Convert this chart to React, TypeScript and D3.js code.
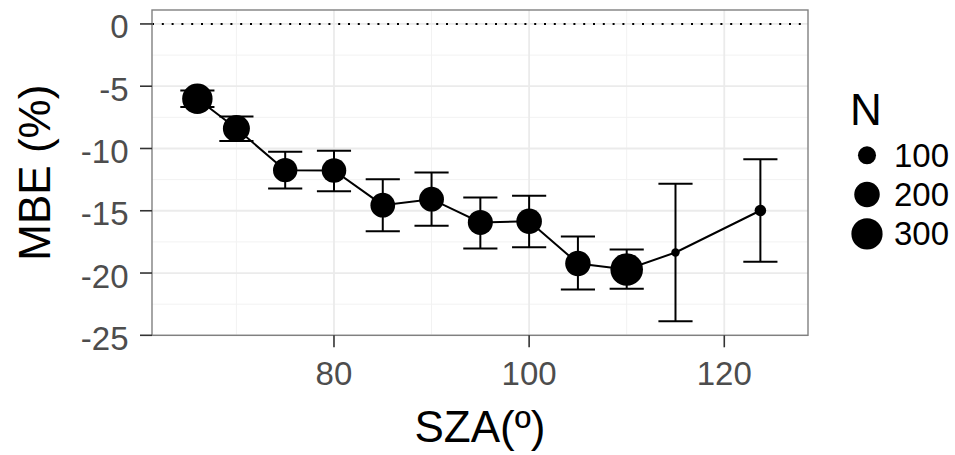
import React from "react";
import * as d3 from "d3";

// SZA bins (degrees), mean bias error (%), error-bar bounds and sample counts
const sza = [66, 70, 75, 80, 85, 90, 95, 100, 105, 110, 115, 123.7];
const mbe = [-6.0, -8.4, -11.74, -11.77, -14.55, -14.07, -15.94, -15.84, -19.23, -19.71, -18.35, -14.98];
const upper = [-5.35, -7.43, -10.27, -10.19, -12.46, -11.93, -13.93, -13.8, -17.06, -18.11, -12.84, -10.86];
const lower = [-6.66, -9.39, -13.21, -13.43, -16.64, -16.21, -18.03, -17.92, -21.32, -21.27, -23.88, -19.1];
const counts = [285, 225, 183, 186, 188, 190, 193, 202, 199, 327, 22, 41];

const xTicks = [80, 100, 120];
const xMinor = [70, 90, 110];
const yTicks = [0, -5, -10, -15, -20, -25];
const yMinor = [-2.5, -7.5, -12.5, -17.5, -22.5];
const legendBreaks = [100, 200, 300];

const W = 955;
const H = 455;
const panel = { left: 152, right: 808, top: 10, bottom: 335.3 };
const capWidth = 3.5; // error-bar cap width in SZA units
const FONT = "'Liberation Sans', Arial, Helvetica, sans-serif";

export default function App() {
  const x = d3.scaleLinear().domain([61.35, 128.58]).range([panel.left, panel.right]);
  const y = d3.scaleLinear().domain([-25, 1.12]).range([panel.bottom, panel.top]);
  const r = d3.scaleSqrt().domain([0, 300]).range([0, 15.6]);

  const rows = sza.map((s, i) => ({ s, m: mbe[i], lo: lower[i], hi: upper[i], n: counts[i] }));
  const line = d3
    .line<(typeof rows)[number]>()
    .x((d) => x(d.s))
    .y((d) => y(d.m));

  return (
    <svg
      width={W}
      height={H}
      style={{ position: "absolute", left: 0, top: 0, background: "#fff" }}
      fontFamily={FONT}
    >
      <rect x={0} y={0} width={W} height={H} fill="#fff" />
      {/* grid */}
      {yMinor.map((v) => (
        <line key={"ym" + v} x1={panel.left} x2={panel.right} y1={y(v)} y2={y(v)} stroke="#F2F2F2" strokeWidth={1} />
      ))}
      {xMinor.map((v) => (
        <line key={"xm" + v} x1={x(v)} x2={x(v)} y1={panel.top} y2={panel.bottom} stroke="#F2F2F2" strokeWidth={1} />
      ))}
      {yTicks.map((v) => (
        <line key={"yg" + v} x1={panel.left} x2={panel.right} y1={y(v)} y2={y(v)} stroke="#EBEBEB" strokeWidth={1.8} />
      ))}
      {xTicks.map((v) => (
        <line key={"xg" + v} x1={x(v)} x2={x(v)} y1={panel.top} y2={panel.bottom} stroke="#EBEBEB" strokeWidth={1.8} />
      ))}

      {/* reference line at zero */}
      <line
        x1={panel.left}
        x2={panel.right}
        y1={y(0)}
        y2={y(0)}
        stroke="#000"
        strokeWidth={2}
        strokeDasharray="2 7.8"
      />

      {/* error bars */}
      {rows.map((d, i) => (
        <g key={"eb" + i} stroke="#000" strokeWidth={2}>
          <line x1={x(d.s)} x2={x(d.s)} y1={y(d.hi)} y2={y(d.lo)} />
          <line x1={x(d.s - capWidth / 2)} x2={x(d.s + capWidth / 2)} y1={y(d.hi)} y2={y(d.hi)} />
          <line x1={x(d.s - capWidth / 2)} x2={x(d.s + capWidth / 2)} y1={y(d.lo)} y2={y(d.lo)} />
        </g>
      ))}

      {/* connecting line */}
      <path d={line(rows) || ""} fill="none" stroke="#000" strokeWidth={2} />

      {/* points sized by N */}
      {rows.map((d, i) => (
        <circle key={"pt" + i} cx={x(d.s)} cy={y(d.m)} r={r(d.n)} fill="#000" />
      ))}

      {/* panel border */}
      <rect
        x={panel.left}
        y={panel.top}
        width={panel.right - panel.left}
        height={panel.bottom - panel.top}
        fill="none"
        stroke="#808080"
        strokeWidth={1.4}
      />

      {/* y axis */}
      {yTicks.map((v) => (
        <g key={"yt" + v}>
          <line x1={panel.left - 12} x2={panel.left} y1={y(v)} y2={y(v)} stroke="#333" strokeWidth={1.6} />
          <text x={128.5} y={y(v) + 14.5} textAnchor="end" fontSize={33} fill="#4D4D4D">
            {v}
          </text>
        </g>
      ))}

      {/* x axis */}
      {xTicks.map((v) => (
        <g key={"xt" + v}>
          <line x1={x(v)} x2={x(v)} y1={panel.bottom} y2={panel.bottom + 12} stroke="#333" strokeWidth={1.6} />
          <text x={x(v)} y={385} textAnchor="middle" fontSize={33} fill="#4D4D4D">
            {v}
          </text>
        </g>
      ))}

      {/* axis titles */}
      <text x={480} y={441.5} textAnchor="middle" fontSize={44} fill="#000">
        SZA(º)
      </text>
      <text
        transform={`translate(49.5, ${(panel.top + panel.bottom) / 2}) rotate(-90)`}
        textAnchor="middle"
        fontSize={44}
        fill="#000"
      >
        MBE (%)
      </text>

      {/* size legend */}
      <text x={850} y={125} fontSize={44} fill="#000">
        N
      </text>
      {legendBreaks.map((b, i) => {
        const cy = 155.3 + i * 39.3;
        return (
          <g key={"lg" + b}>
            <circle cx={867} cy={cy} r={r(b)} fill="#000" />
            <text x={894} y={cy + 11.5} fontSize={33} fill="#000">
              {b}
            </text>
          </g>
        );
      })}
    </svg>
  );
}
